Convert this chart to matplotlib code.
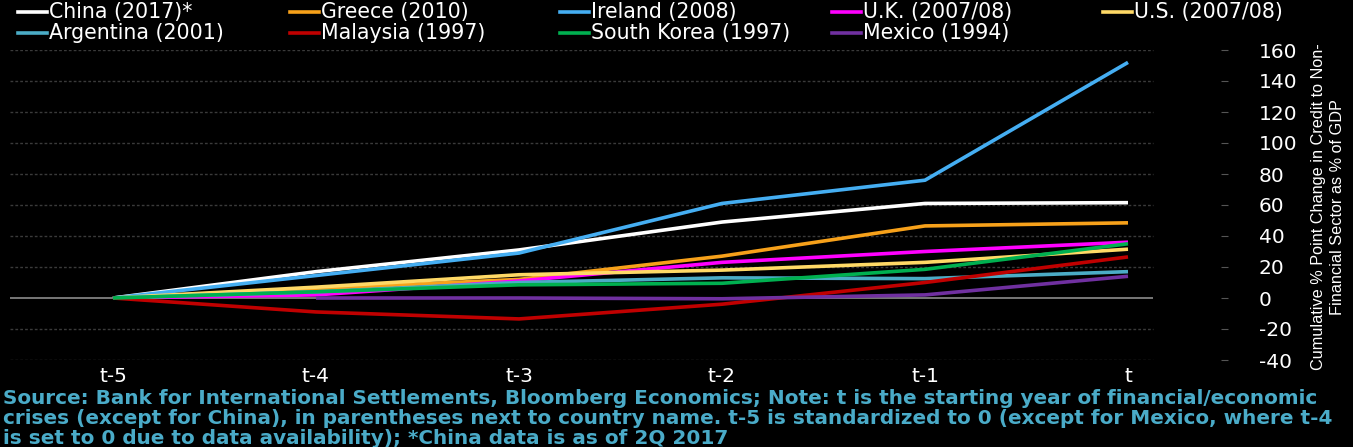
import matplotlib
matplotlib.use("Agg")
import matplotlib.pyplot as plt
from matplotlib.lines import Line2D
import numpy as np

periods = ["t-5", "t-4", "t-3", "t-2", "t-1", "t"]

china = [0, 17, 31, 49, 61, 61.5]
greece = [0, 6, 12, 27, 46.5, 48.5]
ireland = [0, 14.5, 29, 61, 76, 152]
uk = [0, 2, 11, 23, 30, 36]
us = [0, 7, 15, 18, 23, 31.5]
argentina = [0, 4, 10, 13, 12.5, 17]
malaysia = [0, -9, -13.5, -4, 10, 26.5]
south_korea = [0, 4, 8.5, 9.5, 18.5, 35]
mexico = [np.nan, 0, 0, -0.5, 2, 14]

names = ["China (2017)*", "Greece (2010)", "Ireland (2008)", "U.K. (2007/08)", "U.S. (2007/08)",
         "Argentina (2001)", "Malaysia (1997)", "South Korea (1997)", "Mexico (1994)"]
series = [china, greece, ireland, uk, us, argentina, malaysia, south_korea, mexico]
colors = ["#ffffff", "#f7a11a", "#45aef2", "#ff00ff", "#ffd966",
          "#4bacc6", "#c00000", "#00b050", "#7030a0"]

yticks = [-40, -20, 0, 20, 40, 60, 80, 100, 120, 140, 160]

W, H = 1353, 447
fig = plt.figure(figsize=(W / 100, H / 100), dpi=100, facecolor="black")

def fx(px):
    return px / W

def fy(py):
    return 1 - py / H

left, right = 10, 1228
top, bottom = 50, 360
ax = fig.add_axes([fx(left), fy(bottom), fx(right) - fx(left), fy(top) - fy(bottom)])
ax.set_facecolor("black")
x = np.arange(len(periods))
x0px, dxpx = 113, 203
ax.set_xlim((left - x0px) / dxpx, (right - x0px) / dxpx)
ax.set_ylim(-40, 160)
grid_end = (1153 - x0px) / dxpx
for yv in yticks:
    if yv == 0:
        ax.hlines(yv, ax.get_xlim()[0], grid_end, color="#8c8c8c", lw=1.2, zorder=1)
    else:
        ax.hlines(yv, ax.get_xlim()[0], grid_end, color="#3a3a3a", lw=1.0,
                  linestyles=(0, (2, 1.5)), zorder=1)

for s, c in zip(series, colors):
    ax.plot(x, s, color=c, lw=2.6, zorder=3, solid_capstyle="butt", clip_on=False)

for sp in ax.spines.values():
    sp.set_visible(False)
ax.set_xticks(x)
ax.set_xticklabels(periods, color="white", fontsize=14.5, family="DejaVu Sans")
ax.tick_params(axis="x", length=0, pad=5)
ax.yaxis.tick_right()
ax.set_yticks(yticks)
ax.set_yticklabels([str(v) for v in yticks], color="white", fontsize=14.5, family="DejaVu Sans", ha="left")
ax.tick_params(axis="y", direction="in", length=5, color="#555555", pad=22)

fig.text(fx(1328), fy(207), "Cumulative % Point Change in Credit to Non-\nFinancial Sector as % of GDP",
         rotation=90, ha="center", va="center", multialignment="center", color="white",
         fontsize=11.7, family="Liberation Sans", linespacing=1.3)

# legend
handle_x = [18, 290, 560, 832, 1103]
row_y = [12, 33]
for i, (n, c) in enumerate(zip(names, colors)):
    r, col = divmod(i, 5)
    hx = handle_x[col]
    yy = fy(row_y[r])
    fig.add_artist(Line2D([fx(hx), fx(hx + 29)], [yy, yy], color=c, lw=2.6, transform=fig.transFigure))
    fig.text(fx(hx + 31), yy, n, color="white", fontsize=14.8, family="DejaVu Sans",
             ha="left", va="center")

source_lines = [
    "Source: Bank for International Settlements, Bloomberg Economics; Note: t is the starting year of financial/economic",
    "crises (except for China), in parentheses next to country name. t-5 is standardized to 0 (except for Mexico, where t-4",
    "is set to 0 due to data availability); *China data is as of 2Q 2017",
]
for i, line in enumerate(source_lines):
    fig.text(fx(3), fy(398 + 20 * i), line, color="#4aabc8", fontsize=14.4, fontweight="bold",
             family="DejaVu Sans", ha="left", va="center")

fig.savefig("out.png", dpi=100, facecolor="black")
